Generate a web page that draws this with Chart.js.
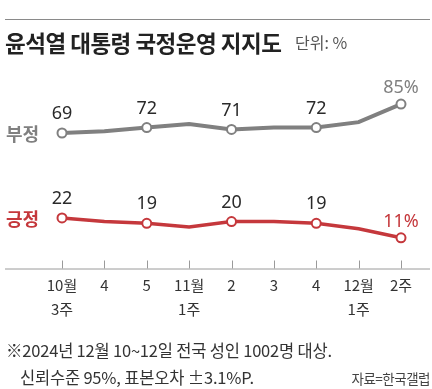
<!DOCTYPE html>
<html>
<head>
<meta charset="utf-8">
<script src="https://cdn.jsdelivr.net/npm/chart.js@4"></script>
<style>
  body { margin: 0; background: #fff; font-family: "Noto Sans CJK KR", sans-serif; }
  #wrap { position: relative; width: 432px; height: 389px; overflow: hidden; }
  #chart { position: absolute; left: 0; top: 0; }
  #rule { position: absolute; left: 5px; top: 19px; width: 425px; height: 1px; background: #8a8a8a; }
  #title { position: absolute; left: 5px; top: 26px; font-size: 22.5px; font-weight: bold; color: #222; letter-spacing: -0.5px; white-space: nowrap; line-height: 32px; }
  #unit { position: absolute; left: 295px; top: 31px; font-size: 16px; color: #555; white-space: nowrap; line-height: 22px; }
  .note { position: absolute; font-size: 16.5px; color: #333; white-space: nowrap; letter-spacing: -0.2px; line-height: 20px; }
  #src { position: absolute; right: 2px; top: 368px; font-size: 13.5px; color: #444; white-space: nowrap; letter-spacing: -0.5px; line-height: 20px; }
</style>
</head>
<body>
<div id="wrap">
  <canvas id="chart" width="432" height="389"></canvas>
  <div id="rule"></div>
  <div id="title">윤석열 대통령 국정운영 지지도</div>
  <div id="unit">단위: %</div>
  <div class="note" style="left:6px; top:340px;">※2024년 12월 10~12일 전국 성인 1002명 대상.</div>
  <div class="note" style="left:20px; top:367px;">신뢰수준 95%, 표본오차 ±3.1%P.</div>
  <div id="src">자료=한국갤럽</div>
</div>
<script>
var weeks = [["10월", "3주"], "4", "5", ["11월", "1주"], "2", "3", "4", ["12월", "1주"], "2주"];
var negative = [69, 70, 72, 74, 71, 72, 72, 75, 85];
var positive = [22, 20, 19, 17, 20, 20, 19, 16, 11];
var seriesNames = ["부정", "긍정"];

var gray = "#808080";
var red = "#c5383c";

// value labels, series names, baseline and ticks
var overlay = {
  id: "overlay",
  afterDatasetsDraw: function (chart) {
    var ctx = chart.ctx;
    var xs = chart.scales.x;
    var area = chart.chartArea;
    ctx.save();

    ctx.strokeStyle = "#9a9a9a";
    ctx.lineWidth = 1;
    ctx.beginPath();
    ctx.moveTo(5, area.bottom + 0.5);
    ctx.lineTo(430, area.bottom + 0.5);
    for (var i = 0; i < weeks.length; i++) {
      var tx = Math.round(xs.getPixelForValue(i)) + 0.5;
      ctx.moveTo(tx, area.bottom - 8);
      ctx.lineTo(tx, area.bottom);
    }
    ctx.stroke();

    chart.data.datasets.forEach(function (ds, d) {
      var meta = chart.getDatasetMeta(d);
      var last = ds.data.length - 1;
      ctx.textAlign = "center";
      ctx.textBaseline = "middle";
      ds.data.forEach(function (v, i) {
        if (i % 2 !== 0) return;
        var p = meta.data[i];
        ctx.font = "18px 'Noto Sans', sans-serif";
        if (i === last) {
          ctx.fillStyle = ds.borderColor;
          ctx.fillText(v + "%", p.x, p.y - 16);
        } else {
          ctx.fillStyle = "#2a2a2a";
          ctx.fillText(v, p.x, p.y - 19);
        }
      });
      ctx.textAlign = "left";
      ctx.font = "bold 18px 'Noto Sans CJK KR', sans-serif";
      ctx.fillStyle = ds.borderColor;
      ctx.fillText(seriesNames[d], 6, meta.data[0].y + 1);
    });
    ctx.restore();
  }
};

var ctx = document.getElementById("chart").getContext("2d");
var chart = new Chart(ctx, {
  type: "line",
  data: {
    labels: weeks,
    datasets: [{
      label: seriesNames[0],
      data: negative,
      borderColor: gray,
      borderWidth: 4,
      pointRadius: function (c) { return c.dataIndex % 2 === 0 ? 4.5 : 0; },
      pointBackgroundColor: "#fff",
      pointBorderColor: gray,
      pointBorderWidth: 2,
      tension: 0
    }, {
      label: seriesNames[1],
      data: positive,
      borderColor: red,
      borderWidth: 3.5,
      pointRadius: function (c) { return c.dataIndex % 2 === 0 ? 4.5 : 0; },
      pointBackgroundColor: "#fff",
      pointBorderColor: red,
      pointBorderWidth: 2,
      tension: 0
    }]
  },
  options: {
    responsive: false,
    animation: false,
    layout: { padding: { left: 62, right: 31, top: 77, bottom: 63 } },
    plugins: { legend: { display: false }, tooltip: { enabled: false } },
    scales: {
      x: {
        offset: false,
        grid: { display: false, drawTicks: false },
        border: { display: false },
        ticks: {
          color: "#333",
          padding: 4,
          maxRotation: 0,
          autoSkip: false,
          font: { family: "'Noto Sans CJK KR', sans-serif", size: 15, lineHeight: 1.65 }
        }
      },
      y: { display: false, min: -6, max: 100 }
    }
  },
  plugins: [overlay]
});
</script>
</body>
</html>
